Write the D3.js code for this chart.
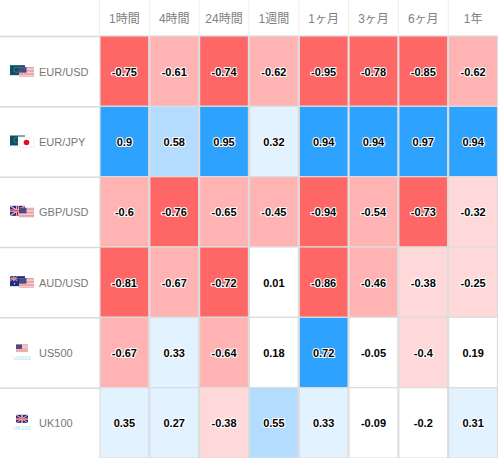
<!DOCTYPE html>
<html><head><meta charset="utf-8">
<style>html,body{margin:0;padding:0;background:#fff}svg{display:block}</style>
<script src="https://cdn.jsdelivr.net/npm/d3@7/dist/d3.min.js"></script>
</head><body>
<script>
const periods = ["1時間","4時間","24時間","1週間","1ヶ月","3ヶ月","6ヶ月","1年"];
const symbols = ["EUR/USD","EUR/JPY","GBP/USD","AUD/USD","US500","UK100"];
const flagPairs = [["eu","us"],["eu","jp"],["uk","us"],["au","us"],["us"],["uk"]];
const flagCaptions = ["","","","","US500","UK100"];
const rowEurUsd = [-0.75,-0.61,-0.74,-0.62,-0.95,-0.78,-0.85,-0.62];
const rowEurJpy = [0.9,0.58,0.95,0.32,0.94,0.94,0.97,0.94];
const rowGbpUsd = [-0.6,-0.76,-0.65,-0.45,-0.94,-0.54,-0.73,-0.32];
const rowAudUsd = [-0.81,-0.67,-0.72,0.01,-0.86,-0.46,-0.38,-0.25];
const rowUs500 = [-0.67,0.33,-0.64,0.18,0.72,-0.05,-0.4,0.19];
const rowUk100 = [0.35,0.27,-0.38,0.55,0.33,-0.09,-0.2,0.31];
const rows = [rowEurUsd,rowEurJpy,rowGbpUsd,rowAudUsd,rowUs500,rowUk100];
const bandColors = ["#ff6666","#ffb3b3","#ffd9d9","#ffffff","#e3f2ff","#b3dcff","#2ea2ff"];

const W=498,H=458;
const x=d3.scaleBand().domain(d3.range(periods.length)).range([99.5,498]);
const y=d3.scaleBand().domain(d3.range(symbols.length)).range([36,458]);
const color=v=>{
  const a=Math.abs(v);
  if(v<0){ if(a>=0.7) return bandColors[0]; if(a>0.4) return bandColors[1]; if(a>0.2) return bandColors[2]; return bandColors[3]; }
  if(a>=0.7) return bandColors[6]; if(a>=0.5) return bandColors[5]; if(a>0.2) return bandColors[4]; return bandColors[3];
};
const svg=d3.select("body").append("svg").attr("width",W).attr("height",H)
  .style("font-family","'Liberation Sans',Arial,sans-serif");

// header
svg.append("g").selectAll("text").data(periods).join("text")
  .attr("x",(d,i)=>x(i)+x.bandwidth()/2).attr("y",18.5).attr("dy","0.35em")
  .attr("text-anchor","middle").attr("font-size",12).attr("fill","#808080")
  .style("font-family","'Liberation Sans','Noto Sans CJK JP',sans-serif").text(d=>d);
svg.append("g").selectAll("line").data(periods).join("line")
  .attr("x1",(d,i)=>x(i)).attr("x2",(d,i)=>x(i)).attr("y1",0).attr("y2",36)
  .attr("stroke","#eeeeee");

// cells
const rowG=svg.append("g").selectAll("g").data(rows).join("g").attr("transform",(d,i)=>`translate(0,${y(i)})`);
rowG.selectAll("rect").data(d=>d).join("rect")
  .attr("x",(d,i)=>x(i)+0.5).attr("y",0).attr("width",x.bandwidth()-1).attr("height",y.bandwidth())
  .attr("fill",color).attr("stroke","#dcdcdc").attr("stroke-width",1.2);
rowG.selectAll("text").data(d=>d).join("text")
  .attr("x",(d,i)=>x(i)+x.bandwidth()/2).attr("y",y.bandwidth()/2+0.7).attr("dy","0.35em")
  .attr("text-anchor","middle").attr("font-size",11).attr("font-weight",700).attr("fill","#000")
  .attr("stroke","#fff").attr("stroke-width",2.2).attr("paint-order","stroke").attr("stroke-linejoin","round")
  .text(d=>d);

// row separators
svg.append("g").selectAll("line").data(d3.range(symbols.length)).join("line")
  .attr("x1",0).attr("x2",100).attr("y1",i=>y(i)+0.5).attr("y2",i=>y(i)+0.5).attr("stroke","#d9d9d9").attr("stroke-width",1.5);

// labels
svg.append("g").selectAll("text").data(symbols).join("text")
  .attr("x",39).attr("y",(d,i)=>y(i)+y.bandwidth()/2+0.7).attr("dy","0.35em")
  .attr("font-size",11).attr("fill","#777").text(d=>d);

function flag(g,kind,w,h){
  const s=w/15;
  if(kind==="us"){
    g.append("rect").attr("width",w).attr("height",h).attr("fill","#f7f0f0");
    d3.range(0,7).forEach(k=>g.append("rect").attr("y",k*h/7).attr("width",w).attr("height",h/14).attr("fill","#df7f84"));
    g.append("rect").attr("width",w*.5).attr("height",h*.55).attr("fill","#4d4a80");
  } else if(kind==="eu"){
    g.append("rect").attr("width",w).attr("height",h).attr("fill","#0d4f6e");
    g.append("circle").attr("cx",w*.45).attr("cy",h*.45).attr("r",h*.28).attr("fill","none").attr("stroke","#6f8a3a").attr("stroke-width",.7);
  } else if(kind==="jp"){
    g.append("rect").attr("x",-1).attr("y",-1).attr("width",w+2).attr("height",h+2).attr("fill","#fff");
    g.append("rect").attr("width",w).attr("height",h).attr("fill","#fff").attr("stroke","#e4e4e4").attr("stroke-width",.5);
    g.append("circle").attr("cx",w/2).attr("cy",h/2).attr("r",h*.28).attr("fill","#e0101a");
  } else if(kind==="uk"){
    g.append("rect").attr("width",w).attr("height",h).attr("fill","#1f2a80");
    [[0,0,w,h],[w,0,0,h]].forEach(l=>g.append("line").attr("x1",l[0]).attr("y1",l[1]).attr("x2",l[2]).attr("y2",l[3]).attr("stroke","#fff").attr("stroke-width",1.2*s));
    [[0,0,w,h],[w,0,0,h]].forEach(l=>g.append("line").attr("x1",l[0]).attr("y1",l[1]).attr("x2",l[2]).attr("y2",l[3]).attr("stroke","#d8222e").attr("stroke-width",.5*s));
    [[w/2,0,w/2,h],[0,h/2,w,h/2]].forEach(l=>{
      g.append("line").attr("x1",l[0]).attr("y1",l[1]).attr("x2",l[2]).attr("y2",l[3]).attr("stroke","#fff").attr("stroke-width",2.4*s);
      g.append("line").attr("x1",l[0]).attr("y1",l[1]).attr("x2",l[2]).attr("y2",l[3]).attr("stroke","#d8222e").attr("stroke-width",1.3*s);
    });
  } else if(kind==="au"){
    g.append("rect").attr("width",w).attr("height",h).attr("fill","#1d2a86");
    const c=g.append("g");
    flag(c,"uk",w*.5,h*.5);
    [[.7,.3],[.85,.55],[.7,.8],[.3,.75]].forEach(p=>g.append("circle").attr("cx",w*p[0]).attr("cy",h*p[1]).attr("r",.7).attr("fill","#fff"));
  }
}
flagPairs.forEach((p,i)=>{
  const cy=y(i)+y.bandwidth()/2;
  if(p.length===2){
    flag(svg.append("g").attr("transform",`translate(10,${cy-6})`),p[0],15,10);
    flag(svg.append("g").attr("transform",`translate(19,${cy-4})`),p[1],15,10);
  } else {
    flag(svg.append("g").attr("transform",`translate(16,${cy-8})`),p[0],12,8);
    svg.append("text").attr("x",22).attr("y",cy+7).attr("text-anchor","middle").attr("font-size",5.2).attr("letter-spacing",0.3).attr("fill","#9fdcf5").text(flagCaptions[i]);
  }
});
</script>
</body></html>
